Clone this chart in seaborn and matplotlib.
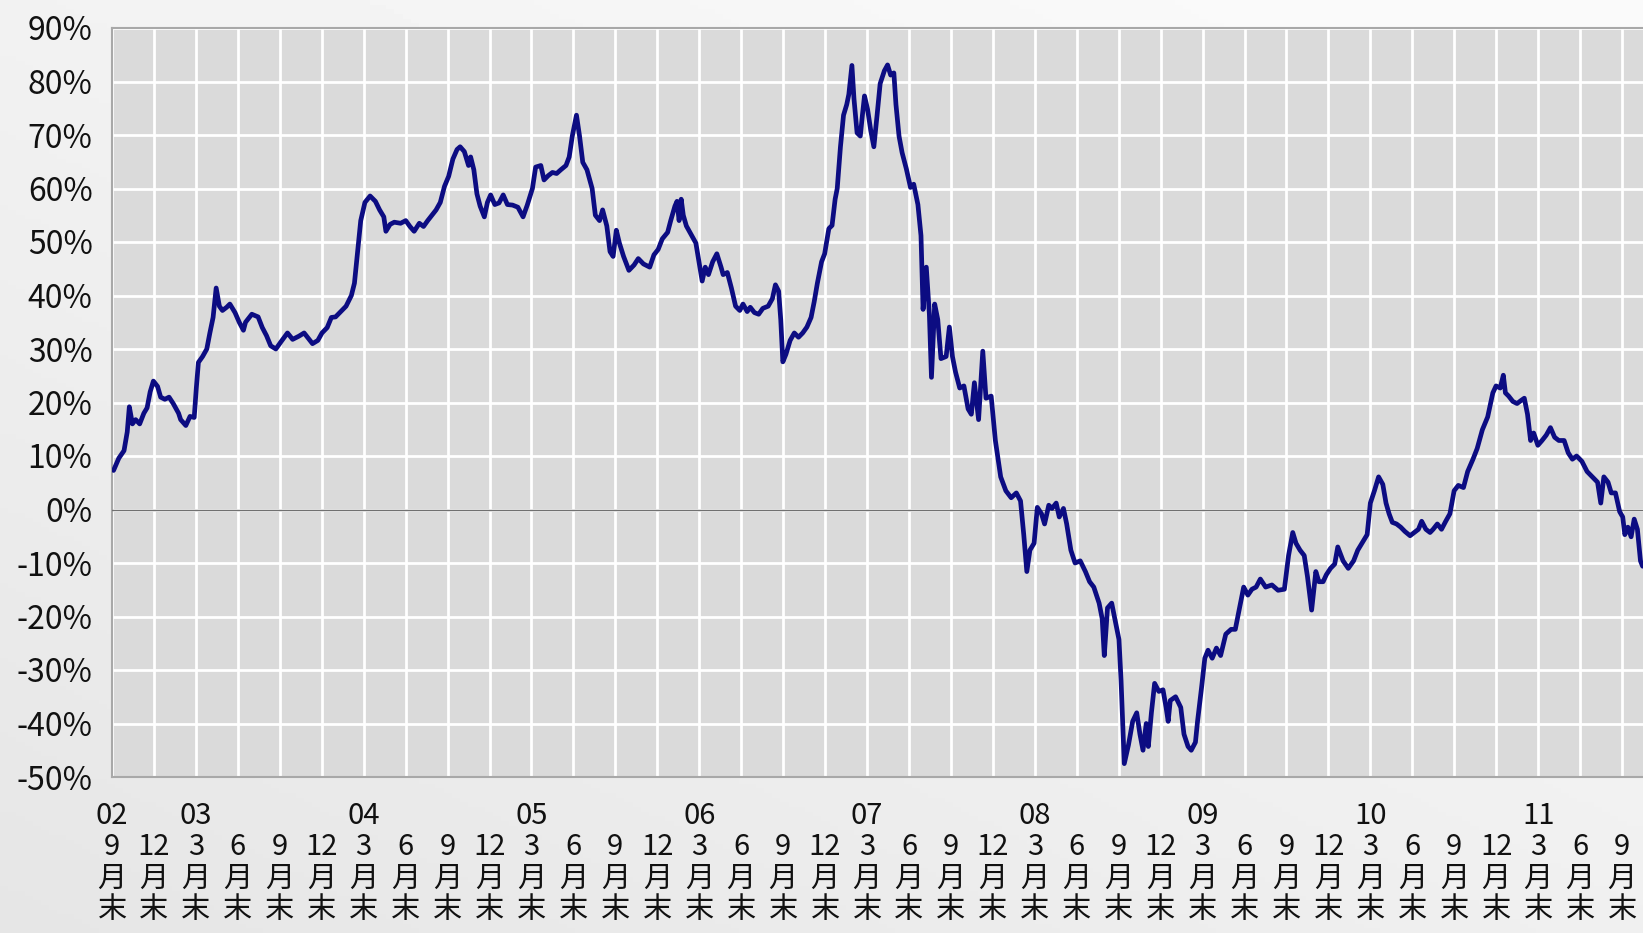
import numpy as np
import pandas as pd
import matplotlib
matplotlib.use("Agg")
import matplotlib.pyplot as plt
import seaborn as sns
from matplotlib.ticker import FuncFormatter

# ---- data: months elapsed since end of Sep 2002, value in % ----
months = [0.11, 0.49, 0.86, 1.09, 1.24, 1.46, 1.69, 1.98, 2.28, 2.51, 2.73, 2.96, 3.26, 3.48, 3.78,
          4.08, 4.38, 4.76, 4.91, 5.28, 5.58, 5.88, 6.03, 6.18, 6.48, 6.78, 7.00, 7.23, 7.45, 7.68,
          7.90, 8.20, 8.43, 8.80, 9.10, 9.40, 9.55, 10.00, 10.45, 10.75, 11.05, 11.35, 11.72, 12.10,
          12.55, 12.92, 13.37, 13.74, 14.04, 14.34, 14.72, 15.02, 15.39, 15.69, 15.99, 16.37, 16.74,
          17.12, 17.34, 17.56, 17.79, 18.09, 18.46, 18.84, 19.14, 19.44, 19.59, 19.89, 20.19, 20.64,
          21.01, 21.31, 21.61, 21.98, 22.28, 22.58, 22.88, 23.18, 23.48, 23.78, 24.08, 24.38, 24.68,
          24.90, 25.20, 25.50, 25.65, 25.88, 26.10, 26.33, 26.63, 26.85, 27.08, 27.38, 27.68, 27.98,
          28.28, 28.65, 29.03, 29.40, 29.70, 30.07, 30.30, 30.67, 30.90, 31.20, 31.50, 31.80, 32.10,
          32.47, 32.70, 32.92, 33.22, 33.44, 33.67, 33.97, 34.34, 34.57, 34.87, 35.09, 35.39, 35.62,
          35.84, 36.07, 36.29, 36.59, 36.97, 37.34, 37.64, 38.01, 38.46, 38.76, 39.06, 39.36, 39.74,
          39.96, 40.26, 40.41, 40.56, 40.71, 40.86, 41.08, 41.46, 41.76, 41.98, 42.21, 42.43, 42.66,
          42.96, 43.26, 43.56, 43.71, 44.01, 44.30, 44.60, 44.90, 45.13, 45.43, 45.65, 45.95, 46.25,
          46.55, 46.93, 47.23, 47.45, 47.68, 47.83, 47.98, 48.20, 48.50, 48.80, 49.10, 49.40, 49.70,
          50.00, 50.22, 50.45, 50.75, 50.97, 51.27, 51.50, 51.72, 51.87, 52.10, 52.32, 52.55, 52.70,
          52.92, 53.07, 53.29, 53.52, 53.67, 53.82, 54.04, 54.27, 54.49, 54.72, 54.94, 55.24, 55.47,
          55.69, 55.92, 56.07, 56.29, 56.51, 56.81, 57.11, 57.34, 57.64, 57.86, 58.01, 58.24, 58.46,
          58.61, 58.84, 59.06, 59.29, 59.66, 59.89, 60.11, 60.33, 60.63, 60.93, 61.23, 61.46, 61.68,
          61.98, 62.28, 62.51, 62.88, 63.18, 63.56, 63.93, 64.31, 64.68, 64.98, 65.21, 65.43, 65.65,
          65.95, 66.18, 66.48, 66.70, 67.00, 67.23, 67.53, 67.75, 68.05, 68.28, 68.58, 68.88, 69.25,
          69.62, 69.92, 70.22, 70.60, 70.82, 70.97, 71.20, 71.50, 71.80, 72.02, 72.17, 72.40, 72.70,
          73.00, 73.29, 73.52, 73.74, 73.97, 74.12, 74.34, 74.57, 74.87, 75.17, 75.39, 75.54, 75.69,
          76.07, 76.44, 76.67, 76.96, 77.19, 77.49, 77.64, 77.94, 78.16, 78.39, 78.69, 78.99, 79.29,
          79.66, 80.04, 80.34, 80.71, 80.94, 81.24, 81.53, 81.83, 82.13, 82.51, 82.96, 83.40, 83.85,
          84.15, 84.45, 84.68, 84.97, 85.27, 85.50, 85.80, 86.10, 86.32, 86.62, 86.85, 87.15, 87.45,
          87.67, 88.05, 88.42, 88.80, 89.10, 89.40, 89.77, 90.00, 90.29, 90.59, 90.89, 91.12, 91.34,
          91.57, 91.87, 92.17, 92.47, 92.84, 93.14, 93.44, 93.67, 93.97, 94.27, 94.49, 94.79, 95.09,
          95.39, 95.69, 95.99, 96.29, 96.66, 96.96, 97.34, 97.64, 98.01, 98.39, 98.76, 98.99, 99.29,
          99.51, 99.66, 99.89, 100.19, 100.49, 100.79, 101.01, 101.24, 101.46, 101.68, 101.98, 102.28,
          102.58, 102.88, 103.18, 103.48, 103.86, 104.15, 104.45, 104.75, 105.13, 105.50, 105.88,
          106.25, 106.48, 106.70, 107.00, 107.23, 107.53, 107.83, 108.05, 108.20, 108.42, 108.65,
          108.87, 109.10, 109.32, 109.47]

values = [7.3, 9.6, 11, 14.5, 19.2, 16, 16.8, 16, 18, 19, 22, 24, 23, 21, 20.6,
          21, 19.8, 18, 16.8, 15.7, 17.4, 17.2, 22.7, 27.5, 28.6, 30, 33, 35.9, 41.4, 38,
          37.2, 37.8, 38.4, 36.8, 35, 33.5, 35, 36.5, 36, 34, 32.5, 30.6, 30, 31.4,
          33, 31.8, 32.4, 33, 32, 31, 31.6, 33, 34, 35.9, 36, 37, 38,
          40, 42.3, 48, 54, 57.4, 58.6, 57.6, 56, 54.7, 52, 53.3, 53.7, 53.5,
          54, 52.9, 52, 53.5, 52.9, 54, 55, 56, 57.4, 60.4, 62.3, 65.5, 67.3,
          67.8, 66.9, 64.3, 65.9, 63.5, 59, 56.7, 54.7, 57.4, 58.8, 57, 57.3, 58.8,
          57, 56.9, 56.5, 54.7, 56.9, 60, 64, 64.3, 61.6, 62.4, 63, 62.8, 63.5,
          64.3, 65.9, 69.8, 73.7, 69.8, 64.9, 63.5, 60, 55, 54, 56, 53, 48.2,
          47.3, 52.2, 49.8, 47.3, 44.7, 45.7, 46.9, 45.9, 45.3, 47.6, 48.6, 50.6, 51.8,
          54, 56.7, 57.6, 54, 58, 55, 53, 51.2, 49.8, 46.3, 42.7, 45.3, 43.9,
          46.3, 47.8, 45.3, 43.9, 44.3, 41.4, 38, 37.2, 38.4, 37, 37.8, 36.8, 36.5,
          37.6, 38, 39.4, 42, 40.8, 35.5, 27.6, 29, 31.6, 33, 32.2, 33, 34.1,
          35.9, 38.8, 42.3, 46.3, 47.8, 52.5, 53.1, 58, 60, 67.8, 73.7, 75.7, 77.6,
          83, 76.7, 70.4, 69.8, 73.7, 77.3, 74.8, 70.8, 67.8, 73.7, 79.6, 82, 83.1,
          81.2, 81.6, 75.7, 69.8, 66.7, 63.7, 60.2, 60.8, 57, 51.2, 37.4, 45.3, 36.5,
          24.7, 38.4, 35.5, 28.2, 28.6, 34.1, 28.6, 25.7, 22.7, 23.1, 18.8, 17.8, 23.7,
          16.8, 29.6, 20.8, 21.2, 12.9, 6.1, 3.5, 2.2, 3.1, 1.6, -4.7, -11.6, -7.6,
          -6.3, 0.4, -0.8, -2.7, 0.8, 0.2, 1.2, -1.4, 0.2, -2.7, -7.6, -10, -9.6,
          -11.6, -13.5, -14.5, -17.5, -20.4, -27.3, -18.4, -17.5, -21.4, -24.3, -32, -47.5, -44,
          -39.6, -38, -42, -45, -40, -44.3, -38, -32.5, -34, -33.7, -37, -39.6, -35.7,
          -35, -37, -42, -44.3, -45, -43.5, -39.6, -33, -27.8, -26.3, -27.8, -25.9, -27.3,
          -23.3, -22.4, -22.4, -17.5, -14.5, -16, -14.9, -14.5, -13, -14.5, -14.1, -15.1, -14.9,
          -8.6, -4.3, -6.3, -7.6, -8.6, -12.5, -18.8, -11.6, -13.5, -13.5, -12.2, -11, -10.2,
          -7, -9.6, -11, -9.6, -7.6, -6.3, -4.7, 1.2, 3.5, 6.1, 4.7, 1.2, -0.8,
          -2.4, -2.7, -3.3, -4.1, -4.9, -4.3, -3.7, -2.2, -3.7, -4.3, -3.7, -2.7, -3.7,
          -2.2, -0.8, 3.5, 4.5, 4.1, 7.1, 9.4, 11.4, 14.9, 17.3, 21.8, 23.1, 22.7,
          25.1, 21.8, 21.2, 20.2, 19.8, 20.4, 20.8, 17.8, 12.9, 14.3, 12, 12.9,
          13.9, 15.3, 13.5, 12.9, 12.9, 10.6, 9.4, 10, 9, 7.1, 6.1,
          5.1, 1.2, 6.1, 5.1, 3.1, 3.1, -0.4, -1.4, -4.7, -3.3, -5.1,
          -1.8, -3.7, -9.6, -10.6]

month_cycle = ["9", "12", "3", "6"]
year_labels = ["02", "03", "04", "05", "06", "07", "08", "09", "10", "11"]
y_ticks = [-50, -40, -30, -20, -10, 0, 10, 20, 30, 40, 50, 60, 70, 80, 90]

df = pd.DataFrame({"month": months, "value": values})

# ---- style ----
sns.set_theme(style="darkgrid")
plt.rcParams["font.family"] = ["Noto Sans CJK JP", "DejaVu Sans"]

fig = plt.figure(figsize=(16.43, 9.33), dpi=100)
fig.patch.set_facecolor("#f3f3f3")

# subtle background gradient
bg = fig.add_axes([0, 0, 1, 1], zorder=-10)
gy, gx = np.mgrid[0:1:200j, 0:1:200j]
grad = 0.90 + 0.08 * np.clip(0.6 * (1 - gy) + 0.5 * gx, 0, 1)
bg.imshow(grad, cmap="gray", vmin=0, vmax=1, aspect="auto", extent=[0, 1, 0, 1], origin="upper")
bg.axis("off")

ax = fig.add_axes([112 / 1643, 1 - 777 / 933, 1 - 112 / 1643, (777 - 28) / 933])
ax.set_facecolor("#dadada")

sns.lineplot(data=df, x="month", y="value", ax=ax, color="#0c0c82", linewidth=3.4,
             zorder=5, estimator=None, sort=False)
for ln in ax.get_lines():
    ln.set_solid_joinstyle("round")
    ln.set_solid_capstyle("round")

ax.axhline(0, color="#707070", linewidth=1.0, zorder=3)

# axes limits & ticks
ax.set_xlim(0, 109.5)
ax.set_ylim(-50, 90)
ax.set_yticks(y_ticks)
ax.yaxis.set_major_formatter(FuncFormatter(lambda v, p: f"{int(v)}%"))

tick_pos = list(range(0, 109, 3))
labels = []
for i, _ in enumerate(tick_pos):
    m = month_cycle[i % 4]
    if i == 0:
        yr = year_labels[0]
    elif (i - 2) % 4 == 0:
        yr = year_labels[(i - 2) // 4 + 1]
    else:
        yr = ""
    labels.append(f"{yr}\n{m}\n月\n末")
ax.set_xticks(tick_pos)
ax.set_xticklabels(labels, linespacing=1.07)

ax.grid(True, color="white", linewidth=2.0)
ax.tick_params(axis="x", length=0, pad=17, labelsize=21, colors="#111111")
ax.tick_params(axis="y", length=0, pad=14, labelsize=23, colors="#111111")

for side in ["top", "left", "bottom"]:
    ax.spines[side].set_visible(True)
    ax.spines[side].set_color("#a8a8a8")
    ax.spines[side].set_linewidth(1.5)
ax.spines["right"].set_visible(False)

ax.set_xlabel("")
ax.set_ylabel("")

fig.savefig("out.png", dpi=100, facecolor=fig.get_facecolor())
